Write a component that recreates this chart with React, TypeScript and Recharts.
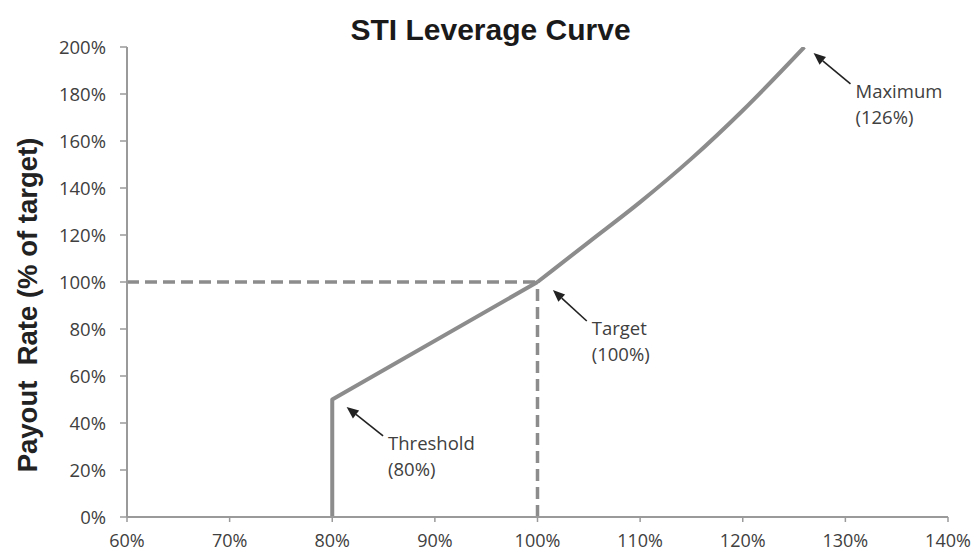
import React from 'react';
import { LineChart, Line, XAxis, YAxis, ReferenceLine } from 'recharts';

// Axis ticks (percent)
const xTicks = [60, 70, 80, 90, 100, 110, 120, 130, 140];
const yTicks = [0, 20, 40, 60, 80, 100, 120, 140, 160, 180, 200];

// Lower part of the leverage curve: threshold jump then linear to target
const lowerX = [80, 80, 100];
const lowerY = [0, 50, 100];

// Upper part of the leverage curve: target to maximum
const upperX = [100, 105, 110, 115, 120, 126];
const upperY = [100, 117, 134, 152.5, 173, 200];

// Dashed target guides
const guideHX = [60, 100];
const guideHY = [100, 100];
const guideVX = [100, 100];
const guideVY = [0, 100];

// Annotations (data-space): label lines, arrow tip, arrow tail
const annLabels = [
  ['Threshold', '(80%)'],
  ['Target', '(100%)'],
  ['Maximum', '(126%)'],
];
const annTipX = [81.4, 101.5, 126.9];
const annTipY = [46.8, 96.6, 197.4];
const annTailX = [84.95, 104.8, 130.5];
const annTailY = [34.5, 83.4, 184.3];

const toPoints = (xs: number[], ys: number[]) => xs.map((x, i) => ({ x, y: ys[i] }));

const lowerData = toPoints(lowerX, lowerY);
const upperData = toPoints(upperX, upperY);

const CURVE = '#8c8c8c';
const AXIS = '#9a9a9a';
const TEXT = '#404040';
const FONT = "'Open Sans', 'Liberation Sans', sans-serif";

const makeArrow = (lines: string[]) => (p: any) => {
  const { x1, y1, x2, y2 } = p;
  if ([x1, y1, x2, y2].some((v) => typeof v !== 'number' || isNaN(v))) return <g />;
  // tip is the upper point
  const tipFirst = y1 < y2;
  const tx = tipFirst ? x1 : x2;
  const ty = tipFirst ? y1 : y2;
  const sx = tipFirst ? x2 : x1;
  const sy = tipFirst ? y2 : y1;
  const dx = tx - sx;
  const dy = ty - sy;
  const len = Math.sqrt(dx * dx + dy * dy) || 1;
  const ux = dx / len;
  const uy = dy / len;
  const headL = 12;
  const headW = 5;
  const bx = tx - ux * headL;
  const by = ty - uy * headL;
  const px = -uy;
  const py = ux;
  const tri = `${tx},${ty} ${bx + px * headW},${by + py * headW} ${bx - px * headW},${by - py * headW}`;
  return (
    <g>
      <line x1={sx} y1={sy} x2={bx} y2={by} stroke="#222" strokeWidth={1.6} />
      <polygon points={tri} fill="#222" />
      {lines.map((t, i) => (
        <text
          key={i}
          x={sx + 5}
          y={sy + 14 + i * 26}
          fontFamily={FONT}
          fontSize={18.5}
          fill={TEXT}
        >
          {t}
        </text>
      ))}
    </g>
  );
};

const YLabel = () => (
  <text
    x={37}
    y={305}
    transform="rotate(-90 37 305)"
    textAnchor="middle"
    fontFamily="'Liberation Sans', Arial, sans-serif"
    fontWeight="bold"
    fontSize={27.5}
    fill="#222"
    style={{ whiteSpace: 'pre' }}
  >
    {'Payout\u00A0\u00A0Rate (% of target)'}
  </text>
);

export default function App() {
  return (
    <div style={{ position: 'absolute', left: 0, top: 0, width: 975, height: 552, background: '#fff' }}>
      <div
        style={{
          position: 'absolute',
          left: 3,
          top: 15,
          width: 975,
          textAlign: 'center',
          fontFamily: "'Liberation Sans', Arial, sans-serif",
          fontWeight: 'bold',
          fontSize: 30,
          lineHeight: '30px',
          color: '#1a1a1a',
        }}
      >
        STI Leverage Curve
      </div>
      <LineChart
        width={975}
        height={552}
        margin={{ top: 47, right: 27, bottom: 5, left: 67 }}
      >
        <XAxis
          type="number"
          dataKey="x"
          domain={[60, 140]}
          ticks={xTicks}
          interval={0}
          height={30}
          tickSize={5}
          tickMargin={12}
          tickFormatter={(v: number) => `${v}%`}
          axisLine={{ stroke: AXIS, strokeWidth: 2 }}
          tickLine={{ stroke: AXIS, strokeWidth: 1.5 }}
          tick={{ fontFamily: FONT, fontSize: 18, fill: TEXT }}
          allowDataOverflow
        />
        <YAxis
          type="number"
          dataKey="y"
          domain={[0, 200]}
          ticks={yTicks}
          interval={0}
          width={60}
          tickSize={7}
          tickMargin={14}
          tickFormatter={(v: number) => `${v}%`}
          axisLine={{ stroke: AXIS, strokeWidth: 2 }}
          tickLine={{ stroke: AXIS, strokeWidth: 1.5 }}
          tick={{ fontFamily: FONT, fontSize: 18.5, fill: TEXT }}
          label={<YLabel />}
          allowDataOverflow
        />
        <ReferenceLine
          segment={toPoints(guideHX, guideHY)}
          stroke={CURVE}
          strokeWidth={3.5}
          strokeDasharray="12 6"
        />
        <ReferenceLine
          segment={toPoints(guideVX, guideVY)}
          stroke={CURVE}
          strokeWidth={3.5}
          strokeDasharray="12 6"
        />
        <Line
          data={lowerData}
          dataKey="y"
          type="linear"
          stroke={CURVE}
          strokeWidth={4}
          strokeLinejoin="round"
          dot={false}
          activeDot={false}
          isAnimationActive={false}
        />
        <Line
          data={upperData}
          dataKey="y"
          type="monotone"
          stroke={CURVE}
          strokeWidth={4}
          strokeLinejoin="round"
          dot={false}
          activeDot={false}
          isAnimationActive={false}
        />
        {annLabels.map((lines, i) => (
          <ReferenceLine
            key={i}
            segment={[
              { x: annTailX[i], y: annTailY[i] },
              { x: annTipX[i], y: annTipY[i] },
            ]}
            shape={makeArrow(lines)}
          />
        ))}
      </LineChart>
    </div>
  );
}
